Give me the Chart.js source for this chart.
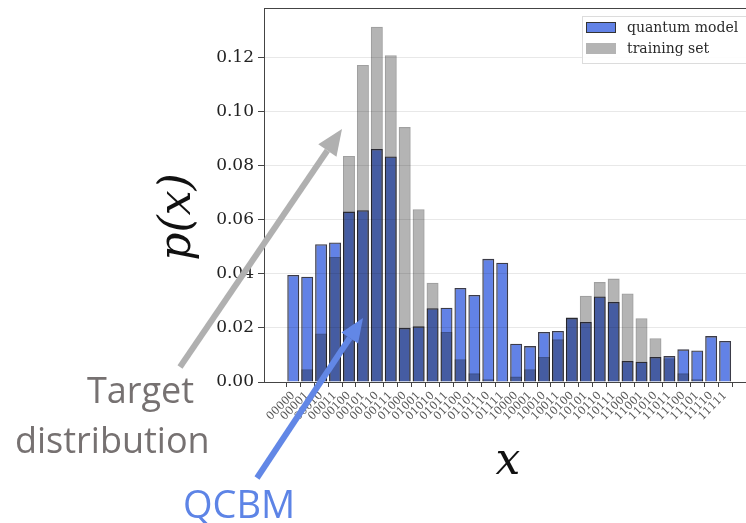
<!DOCTYPE html>
<html>
<head>
<meta charset="utf-8">
<script src="https://cdn.jsdelivr.net/npm/chart.js@4"></script>
<style>
  html, body { margin: 0; padding: 0; background: #fff; overflow: hidden; }
  #wrap { width: 746px; height: 523px; position: relative; }
</style>
</head>
<body>
<div id="wrap"><canvas id="chart"></canvas></div>
<script>
// 5-bit states on the x axis
const states = [
  "00000", "00001", "00010", "00011", "00100", "00101", "00110", "00111",
  "01000", "01001", "01010", "01011", "01100", "01101", "01110", "01111",
  "10000", "10001", "10010", "10011", "10100", "10101", "10110", "10111",
  "11000", "11001", "11010", "11011", "11100", "11101", "11110", "11111",
];

// p(x)
const quantumModel = [
  0.0396, 0.0390, 0.0510, 0.0517, 0.0631, 0.0636, 0.0863, 0.0835,
  0.0200, 0.0206, 0.0273, 0.0275, 0.0348, 0.0322, 0.0456, 0.0442,
  0.0142, 0.0133, 0.0185, 0.0189, 0.0237, 0.0222, 0.0317, 0.0296,
  0.0078, 0.0075, 0.0093, 0.0096, 0.0121, 0.0117, 0.0170, 0.0152,
];
const trainingSet = [
  0.0002, 0.0047, 0.0180, 0.0463, 0.0837, 0.1174, 0.1316, 0.1210,
  0.0944, 0.0640, 0.0368, 0.0185, 0.0084, 0.0032, 0.0010, 0.0005,
  0.0020, 0.0047, 0.0093, 0.0158, 0.0240, 0.0319, 0.0370, 0.0383,
  0.0328, 0.0236, 0.0162, 0.0088, 0.0032, 0.0010, 0.0003, 0.0002,
];

const seriesNames = ["quantum model", "training set"];
const BLUE = "rgb(98, 130, 230)";
const GREY = "rgb(180, 180, 180)";

function toPoints(values) {
  return values.map((v, i) => ({ x: i, y: v }));
}

function drawArrow(ctx, x0, y0, x1, y1, width, headLen, headW, color) {
  const ang = Math.atan2(y1 - y0, x1 - x0);
  const bx = x1 - Math.cos(ang) * headLen;
  const by = y1 - Math.sin(ang) * headLen;
  ctx.save();
  ctx.strokeStyle = color;
  ctx.fillStyle = color;
  ctx.lineWidth = width;
  ctx.beginPath();
  ctx.moveTo(x0, y0);
  ctx.lineTo(bx, by);
  ctx.stroke();
  const nx = -Math.sin(ang) * headW / 2;
  const ny = Math.cos(ang) * headW / 2;
  ctx.beginPath();
  ctx.moveTo(x1, y1);
  ctx.lineTo(bx + nx, by + ny);
  ctx.lineTo(bx - nx, by - ny);
  ctx.closePath();
  ctx.fill();
  ctx.restore();
}

// overlapping bars darken each other like in the figure
const multiplyBars = {
  id: "multiplyBars",
  beforeDraw(chart) {
    const ctx = chart.ctx;
    ctx.save();
    ctx.fillStyle = "#fff";
    ctx.fillRect(0, 0, chart.width, chart.height);
    ctx.restore();
  },
  beforeDatasetsDraw(chart) {
    chart.ctx.save();
    chart.ctx.globalCompositeOperation = "multiply";
  },
  afterDatasetsDraw(chart) {
    chart.ctx.restore();
  },
};

const decor = {
  id: "decor",
  afterDraw(chart) {
    const ctx = chart.ctx;
    const area = chart.chartArea;
    ctx.save();

    // top spine
    ctx.strokeStyle = "#444";
    ctx.lineWidth = 1;
    ctx.beginPath();
    ctx.moveTo(area.left, area.top + 0.5);
    ctx.lineTo(area.right, area.top + 0.5);
    ctx.stroke();

    // legend
    ctx.fillStyle = "rgba(255,255,255,0.9)";
    ctx.strokeStyle = "#dcdcdc";
    ctx.fillRect(582, 16, 180, 47);
    ctx.strokeRect(582.5, 16.5, 180, 47);
    ctx.fillStyle = BLUE;
    ctx.fillRect(586, 22, 30, 11);
    ctx.strokeStyle = "#333";
    ctx.strokeRect(586.5, 22.5, 29, 10);
    ctx.fillStyle = GREY;
    ctx.fillRect(586, 43, 30, 11);
    ctx.fillStyle = "#2a2a2a";
    ctx.font = '14px "DejaVu Serif"';
    ctx.textBaseline = "middle";
    ctx.fillText(seriesNames[0], 627, 28);
    ctx.fillText(seriesNames[1], 627, 49);

    // axis titles
    ctx.fillStyle = "#111";
    ctx.font = 'italic 44px "DejaVu Serif"';
    ctx.textAlign = "center";
    ctx.textBaseline = "alphabetic";
    ctx.fillText("x", 508, 474);
    ctx.save();
    ctx.translate(190, 217);
    ctx.rotate(-Math.PI / 2);
    ctx.fillText("p(x)", 0, 0);
    ctx.restore();

    // annotations
    drawArrow(ctx, 180, 367, 342, 129, 6, 26, 22, "rgb(176,176,176)");
    drawArrow(ctx, 257, 478, 363, 318, 6, 24, 20, "rgb(98,135,230)");

    ctx.textAlign = "left";
    ctx.font = '36px "Open Sans"';
    ctx.fillStyle = "#767171";
    ctx.fillText("Target", 87, 403);
    ctx.fillText("distribution", 15, 453);
    ctx.font = '38px "Open Sans"';
    ctx.fillStyle = "rgb(93,132,230)";
    ctx.fillText("QCBM", 183, 518);

    ctx.restore();
  },
};

new Chart(document.getElementById("chart"), {
  type: "bar",
  data: {
    datasets: [
      {
        label: seriesNames[0],
        data: toPoints(quantumModel),
        backgroundColor: BLUE,
        borderColor: "rgba(25, 25, 40, 0.85)",
        borderWidth: 1.3,
      },
      {
        label: seriesNames[1],
        data: toPoints(trainingSet),
        backgroundColor: GREY,
        borderColor: "rgb(160, 160, 160)",
        borderWidth: 1.3,
      },
    ],
  },
  options: {
    responsive: true,
    maintainAspectRatio: false,
    animation: false,
    devicePixelRatio: 1,
    layout: { padding: { top: 8, left: 0, right: 0, bottom: 0 } },
    datasets: {
      bar: { grouped: false, barPercentage: 0.86, categoryPercentage: 1 },
    },
    plugins: {
      legend: { display: false },
      tooltip: { enabled: false },
    },
    scales: {
      x: {
        type: "linear",
        min: -2.1,
        max: 32.5,
        offset: false,
        grid: { drawOnChartArea: false, tickLength: 5, tickColor: "#444" },
        border: { color: "#444", width: 1 },
        afterBuildTicks: (axis) => {
          axis.ticks = states.map((_, i) => ({ value: i }));
        },
        ticks: {
          autoSkip: false,
          minRotation: 45,
          maxRotation: 45,
          padding: 2,
          color: "#555",
          font: { family: "DejaVu Serif", size: 11 },
          callback: (v) => states[v],
        },
        afterFit: (axis) => {
          axis.height = 141;
          axis.paddingLeft = 0;
          axis.paddingRight = 0;
        },
      },
      y: {
        min: 0,
        max: 0.1385,
        grid: { color: "#e8e8e8", tickColor: "#444", tickLength: 6 },
        border: { color: "#444", width: 1 },
        ticks: {
          stepSize: 0.02,
          includeBounds: false,
          padding: 4,
          color: "#222",
          font: { family: "DejaVu Serif", size: 17 },
          callback: (v) => v.toFixed(2),
        },
        afterFit: (axis) => {
          axis.width = 264;
          axis.paddingTop = 0;
          axis.paddingBottom = 0;
        },
      },
    },
  },
  plugins: [multiplyBars, decor],
});
</script>
</body>
</html>
